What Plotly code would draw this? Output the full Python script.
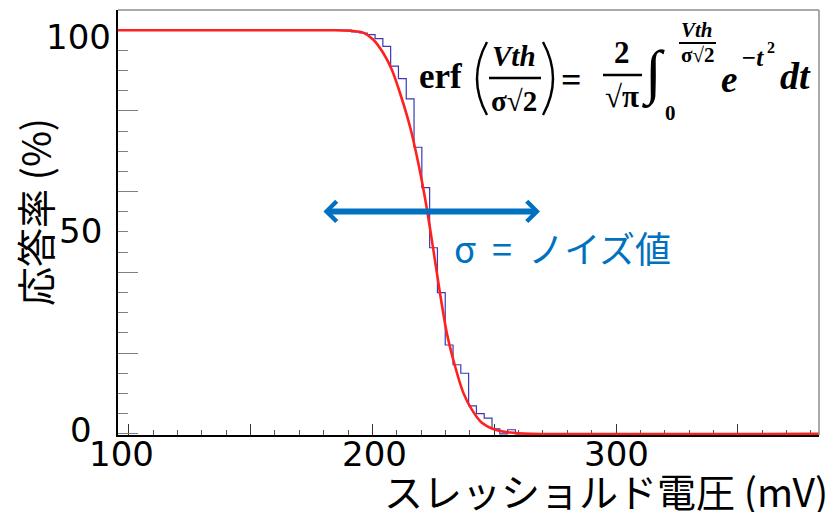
import plotly.graph_objects as go

# ---------------- data ----------------
# step histogram: left edge of each bin (mV) and response rate (%)
bin_left = [95.6, 191.5, 194.7, 197.9, 201.1, 204.3, 207.5, 210.7, 213.9, 217.1,
            220.3, 223.5, 226.7, 229.9, 233.1, 236.3, 239.5, 242.7, 245.9, 249.1,
            252.3, 255.5, 258.7, 383.3]
rate = [100, 99.6, 99.3, 98.9, 97.9, 96.0, 91.1, 88.0, 83.0, 71.0,
        61.0, 46.1, 35.0, 22.0, 17.1, 15.0, 6.9, 5.0, 3.9, 1.2,
        0.0, 1.0, 0.0, 0.0]

# fitted erf curve
fit_x = [95.6, 185.0, 192.0, 196.2, 200.3, 204.4, 207.9, 211.3, 215.4, 218.8,
         222.3, 225.0, 227.7, 230.5, 233.9, 237.3, 240.7, 244.8, 249.6, 256.5,
         265.0, 383.3]
fit_y = [100, 100, 99.8, 99.4, 97.7, 94.4, 90.3, 84.5, 76.2, 67.2,
         56.0, 45.7, 35.0, 25.1, 16.8, 10.2, 6.1, 2.8, 1.2, 0.3,
         0.0, 0.0]

x_range = [95.6, 383.3]
y_range = [-0.3, 105.0]
x_label_vals = [100, 200, 300]
x_label_text = ["100", "200", "300"]
x_label_shift = [-7, 2, 0]
y_label_pos = [98.4, 50.3, 1.0]
y_label_text = ["100", "50", "0"]
y_label_shift = [-5, -14, -24]

arrow_y = 55.1
arrow_x = [179.3, 268.8]

x_title = "スレッショルド電圧 (mV)"
y_title = "応答率 (%)"
sigma_text = "σ\u00a0\u00a0=\u00a0\u00a0ノイズ値"

# ---------------- figure ----------------
W, H = 832, 512
L, R, T, B = 118, 819, 10, 435


def pp(px, py):
    return (px - L) / (R - L), (B - py) / (B - T)


fig = go.Figure()
fig.add_trace(go.Scatter(x=bin_left, y=rate, mode="lines",
                         line=dict(shape="hv", color="#3a3ab4", width=1.2),
                         hoverinfo="skip"))
fig.add_trace(go.Scatter(x=fit_x, y=fit_y, mode="lines",
                         line=dict(shape="spline", smoothing=0.6, color="#ff2020", width=2.6),
                         hoverinfo="skip"))

fig.update_layout(
    width=W, height=H,
    margin=dict(l=L, r=W - R, t=T, b=H - B, pad=0),
    plot_bgcolor="white", paper_bgcolor="white",
    showlegend=False,
    xaxis=dict(range=x_range, tick0=100, dtick=50, showticklabels=False,
               ticks="inside", ticklen=11, tickwidth=1.3, tickcolor="#333333",
               minor=dict(ticks="inside", dtick=10, tick0=100, ticklen=5,
                          tickwidth=1.2, tickcolor="#555555"),
               showline=True, linecolor="black", linewidth=1.5,
               showgrid=False, zeroline=False, layer="below traces"),
    yaxis=dict(range=y_range, tick0=0, dtick=20, ticks="inside", ticklen=20,
               tickwidth=1.3, tickcolor="#808080", showticklabels=False,
               minor=dict(ticks="inside", dtick=5, ticklen=10, tickwidth=1.2,
                          tickcolor="#808080"),
               showline=True, linecolor="black", linewidth=1.5,
               showgrid=False, zeroline=False, layer="below traces"),
)

# top / right frame (gray)
fig.add_shape(type="line", xref="paper", yref="paper", x0=0, x1=1, y0=1, y1=1,
              line=dict(color="#8c8c8c", width=1.5))
fig.add_shape(type="line", xref="paper", yref="paper", x0=1, x1=1, y0=0, y1=1,
              line=dict(color="#8c8c8c", width=1.5))

# tick labels
_, ylab = pp(0, 454)
for v, t, s in zip(x_label_vals, x_label_text, x_label_shift):
    fig.add_annotation(x=v, xref="x", y=ylab, yref="paper", text=t, showarrow=False,
                       xanchor="center", yanchor="middle", xshift=s,
                       font=dict(family="DejaVu Sans", size=34, color="black"))
for v, t, s in zip(y_label_pos, y_label_text, y_label_shift):
    fig.add_annotation(x=0, xref="paper", y=v, yref="y", text=t, showarrow=False,
                       xanchor="right", yanchor="middle", xshift=s,
                       font=dict(family="DejaVu Sans", size=34, color="black"))

# axis titles
x0, y0 = pp(830, 490)
fig.add_annotation(x=x0, y=y0, xref="paper", yref="paper", text=x_title, showarrow=False,
                   xanchor="right", yanchor="middle",
                   font=dict(family="Noto Sans CJK JP", size=39, color="black"))
x0, y0 = pp(34, 212)
fig.add_annotation(x=x0, y=y0, xref="paper", yref="paper", text=y_title, showarrow=False,
                   textangle=-90, xanchor="center", yanchor="middle",
                   font=dict(family="Noto Sans CJK JP", size=39, color="black"))

# double arrow
fig.add_annotation(x=arrow_x[1], y=arrow_y, ax=arrow_x[0], ay=arrow_y,
                   xref="x", yref="y", axref="x", ayref="y", text="",
                   showarrow=True, arrowhead=4, startarrowhead=4, arrowside="end+start",
                   arrowwidth=6, arrowsize=0.65, startarrowsize=0.65,
                   arrowcolor="#0070c0", standoff=0, startstandoff=0)
x0, y0 = pp(452, 247)
fig.add_annotation(x=x0, y=y0, xref="paper", yref="paper", text=sigma_text, showarrow=False,
                   xanchor="left", yanchor="middle",
                   font=dict(family="Noto Sans CJK JP", size=36, color="#0070c0"))

# ---------------- formula ----------------
SERIF = "Liberation Serif"


def txt(s, px, py, size, italic=False):
    xx, yy = pp(px, py)
    body = "<b>" + (("<i>" + s + "</i>") if italic else s) + "</b>"
    fig.add_annotation(x=xx, y=yy, xref="paper", yref="paper", text=body, showarrow=False,
                       xanchor="center", yanchor="middle",
                       font=dict(family=SERIF, size=size, color="black"))


def hline(px0, px1, py, w=2.4):
    a, yy = pp(px0, py)
    b, _ = pp(px1, py)
    fig.add_shape(type="line", xref="paper", yref="paper", x0=a, x1=b, y0=yy, y1=yy,
                  line=dict(color="black", width=w))


def paren(px_end, px_ctrl, py0, py1):
    a, ya = pp(px_end, py0)
    c, yc = pp(px_ctrl, (py0 + py1) / 2)
    b, yb = pp(px_end, py1)
    fig.add_shape(type="path", xref="paper", yref="paper",
                  path=f"M {a},{ya} Q {c},{yc} {b},{yb}",
                  line=dict(color="black", width=2.4))


txt("erf", 440, 77, 35)
paren(487, 467, 42, 115)
txt("Vth", 514, 56, 29, italic=True)
hline(489, 541, 78)
txt("σ√2", 514, 101, 29)
paren(543, 563, 42, 115)
txt("=", 571, 80, 36)
txt("2", 622, 52, 31)
hline(603, 642, 75)
txt("√π", 622, 96, 31)
txt("∫", 653, 74, 60)
txt("0", 670, 113, 21)
txt("Vth", 697, 30, 21, italic=True)
hline(679, 716, 43, 1.8)
txt("σ√2", 697, 55, 21)
txt("e", 729, 80, 37, italic=True)
txt("−t", 752, 58, 25, italic=True)
txt("2", 771, 48, 16)
txt("dt", 795, 76, 38, italic=True)

fig.write_html("out.html")
